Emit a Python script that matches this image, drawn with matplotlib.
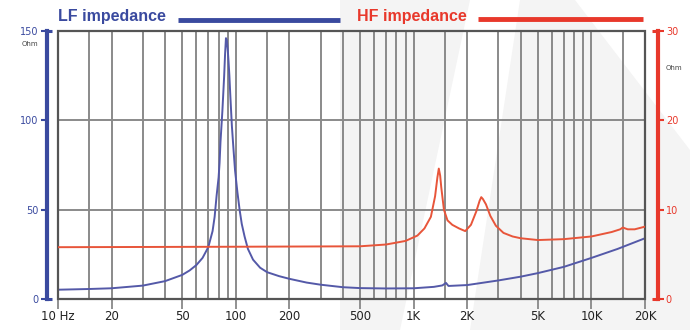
import numpy as np
import matplotlib.pyplot as plt
from matplotlib.patches import Polygon
from matplotlib.lines import Line2D

# LF driver impedance (left axis, Ohm)
lf_freq = [10, 15, 20, 30, 40, 50, 55, 60, 65, 70, 74, 76, 78, 80, 81, 82, 84,
           85, 86, 87, 88, 89, 90, 91, 92, 93, 95, 97, 99, 102, 105, 108, 112,
           117, 125, 137, 150, 175, 200, 250, 300, 400, 500, 700, 1000, 1300,
           1450, 1520, 1570, 1650, 2000, 3000, 4000, 5000, 7000, 10000, 14000,
           20000]
lf_ohm = [5.2, 5.6, 6.0, 7.5, 10.0, 13.5, 16, 19, 23, 29, 38, 46, 58, 68, 76,
          88, 105, 115, 125, 137, 146, 145, 140, 133, 125, 115, 97, 84, 72,
          60, 50, 42, 35, 28, 22, 17.5, 15, 12.8, 11.3, 9.2, 8.0, 6.6, 6.1,
          5.9, 6.0, 6.8, 7.6, 9.0, 7.3, 7.4, 7.8, 10.4, 12.5, 14.5, 18, 23,
          28, 34]

# HF driver impedance (right axis, Ohm)
hf_freq = [10, 100, 500, 700, 900, 1050, 1150, 1250, 1320, 1360, 1385, 1410,
           1430, 1480, 1550, 1650, 1800, 1950, 2100, 2250, 2350, 2400, 2450,
           2550, 2700, 2900, 3200, 3600, 4000, 5000, 7000, 10000, 13000, 14500,
           15000, 16000, 17500, 20000]
hf_ohm = [5.8, 5.85, 5.9, 6.1, 6.5, 7.1, 7.9, 9.2, 11.5, 13.6, 14.6, 13.8,
          12.5, 10.0, 8.8, 8.3, 7.9, 7.6, 8.3, 9.8, 11.0, 11.4, 11.2, 10.6,
          9.3, 8.2, 7.4, 7.0, 6.8, 6.6, 6.7, 7.0, 7.5, 7.8, 8.0, 7.8, 7.8, 8.1]

x_ticks = [10, 20, 50, 100, 200, 500, 1000, 2000, 5000, 10000, 20000]
x_labels = ["10 Hz", "20", "50", "100", "200", "500", "1K", "2K", "5K", "10K", "20K"]
grid_freqs = [15, 20, 30, 40, 50, 60, 70, 80, 90, 100, 150, 200, 300, 400, 500,
              600, 700, 800, 900, 1000, 1500, 2000, 3000, 4000, 5000, 6000,
              7000, 8000, 9000, 10000, 15000]

BLUE = "#3a4a9f"
RED = "#e8382b"
W, H = 690, 330

fig = plt.figure(figsize=(6.9, 3.3), dpi=100)

# faint watermark in the background
for pts in ([(340, 0), (470, 0), (400, 330), (340, 330)],
            [(520, 0), (575, 0), (690, 150), (690, 330), (470, 330)]):
    fig.patches.append(Polygon([(x / W, 1 - y / H) for x, y in pts],
                               closed=True, transform=fig.transFigure,
                               facecolor="#f4f4f4", edgecolor="none", zorder=-5))

ax = fig.add_axes([58 / W, 31 / H, 587 / W, 268 / H])
ax.patch.set_alpha(0)
ax.set_xscale("log")
ax.set_xlim(10, 20000)
ax.set_ylim(0, 150)

for f in grid_freqs:
    ax.axvline(f, color="#8a8a8a", lw=1.4, zorder=1)
for v in [50, 100]:
    ax.axhline(v, color="#8a8a8a", lw=1.4, zorder=1)

ax.plot(lf_freq, lf_ohm, color="#5459a8", lw=1.4, zorder=4)

ax.set_xticks(x_ticks)
ax.set_xticklabels(x_labels)
ax.xaxis.set_minor_locator(plt.NullLocator())
ax.tick_params(axis="x", length=7, width=1.3, color="#888888", labelsize=8.5,
               labelcolor="#222222", pad=1)

ax.set_yticks([0, 50, 100, 150])
ax.tick_params(axis="y", length=4, width=1.5, color=BLUE, labelcolor=BLUE,
               labelsize=7, pad=2)
for s in ["top", "right", "bottom"]:
    ax.spines[s].set_visible(False)
ax.spines["left"].set_position(("outward", 8))
ax.spines["left"].set_color(BLUE)
ax.spines["left"].set_linewidth(3)

# plot frame
frame = plt.Rectangle((0, 0), 1, 1, transform=ax.transAxes, fill=False,
                      edgecolor="#555555", lw=1.6, zorder=5, clip_on=False)
ax.add_patch(frame)

ax2 = ax.twinx()
ax2.patch.set_alpha(0)
ax2.set_ylim(0, 30)
ax2.set_yticks([0, 10, 20, 30])
ax2.plot(hf_freq, hf_ohm, color="#e8553a", lw=1.4, zorder=4)
for s in ["top", "left", "bottom"]:
    ax2.spines[s].set_visible(False)
ax2.spines["right"].set_position(("outward", 9))
ax2.spines["right"].set_color(RED)
ax2.spines["right"].set_linewidth(3)
ax2.tick_params(axis="y", length=4, width=1.5, color=RED, labelcolor=RED,
                labelsize=7, pad=2)

# bracket hooks at the ends of the coloured axes
def fig_line(xs, ys, color, lw):
    fig.add_artist(Line2D([x / W for x in xs], [1 - y / H for y in ys],
                          transform=fig.transFigure, color=color, lw=lw,
                          solid_capstyle="butt"))

fig_line([46, 52], [31, 31], BLUE, 2.2)
fig_line([46, 52], [299, 299], BLUE, 2.2)
fig_line([652, 658], [31, 31], RED, 2.2)
fig_line([652, 658], [299, 299], RED, 2.2)

fig.text(22 / W, 1 - 44 / H, "Ohm", fontsize=5, color="#444444", va="center")
fig.text(666 / W, 1 - 68 / H, "Ohm", fontsize=5, color="#444444", va="center")

# titles with coloured lines
fig.text(58 / W, 1 - 16 / H, "LF impedance", fontsize=11.5, fontweight="bold",
         color=BLUE, family=["Liberation Sans", "DejaVu Sans"], va="center")
fig_line([178, 340], [20, 20], BLUE, 3.5)
fig.text(357 / W, 1 - 16 / H, "HF impedance", fontsize=11.5, fontweight="bold",
         color=RED, family=["Liberation Sans", "DejaVu Sans"], va="center")
fig_line([478, 643], [19, 19], RED, 3.5)

fig.savefig("out.png", dpi=100)
